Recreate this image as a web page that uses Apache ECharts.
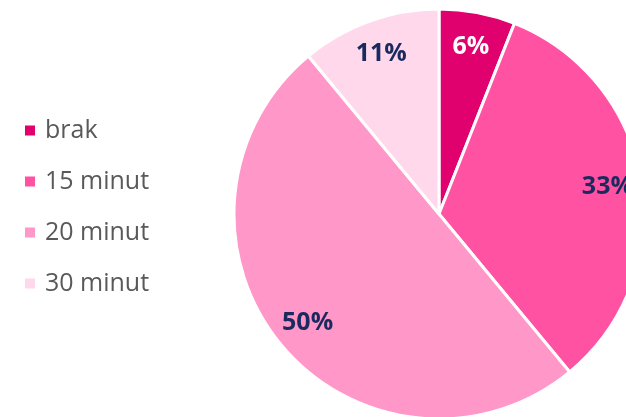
<!DOCTYPE html>
<html>
<head>
<meta charset="utf-8">
<script src="https://cdn.jsdelivr.net/npm/echarts@6/dist/echarts.min.js"></script>
<style>
  html, body { margin: 0; padding: 0; background: #ffffff; }
  #chart { width: 626px; height: 417px; }
</style>
</head>
<body>
<div id="chart"></div>
<script>
// Slice names, shares (%) and colours
const categories = ['brak', '15 minut', '20 minut', '30 minut'];
const shares = [6, 33, 50, 11];
const sliceColors = ['#E0006E', '#FF52A3', '#FF97C8', '#FFD9EB'];
const labelColors = ['#FFFFFF', '#1B2A5E', '#1B2A5E', '#1B2A5E'];

const pieData = categories.map((name, i) => ({
  name: name,
  value: shares[i],
  itemStyle: { color: sliceColors[i] },
  label: { color: labelColors[i] }
}));

const chart = echarts.init(document.getElementById('chart'), null, { renderer: 'canvas' });

chart.setOption({
  animation: false,
  backgroundColor: '#ffffff',
  legend: {
    orient: 'vertical',
    left: 18,
    top: 113,
    icon: 'rect',
    itemWidth: 12,
    itemHeight: 12,
    itemGap: 26,
    data: categories,
    textStyle: {
      color: '#595959',
      fontFamily: '"Open Sans", sans-serif',
      fontSize: 25,
      lineHeight: 25,
      padding: [0, 0, 0, 4]
    }
  },
  series: [
    {
      // the slices themselves
      type: 'pie',
      center: [439, 214],
      radius: 205,
      startAngle: 90,
      clockwise: true,
      silent: true,
      itemStyle: { borderColor: '#ffffff', borderWidth: 3 },
      label: { show: false },
      labelLine: { show: false },
      data: pieData
    },
    {
      // transparent ring that carries the percentage labels near the rim
      type: 'pie',
      center: [439, 214],
      radius: [130, 205],
      startAngle: 90,
      clockwise: true,
      silent: true,
      legendHoverLink: false,
      itemStyle: { color: 'rgba(0,0,0,0)', borderWidth: 0 },
      label: {
        show: true,
        position: 'inside',
        formatter: '{c}%',
        fontFamily: '"Open Sans", sans-serif',
        fontWeight: 'bold',
        fontSize: 25
      },
      labelLine: { show: false },
      data: pieData.map(d => ({
        name: d.name,
        value: d.value,
        itemStyle: { color: 'rgba(0,0,0,0)' },
        label: d.label
      }))
    }
  ]
});
</script>
</body>
</html>
